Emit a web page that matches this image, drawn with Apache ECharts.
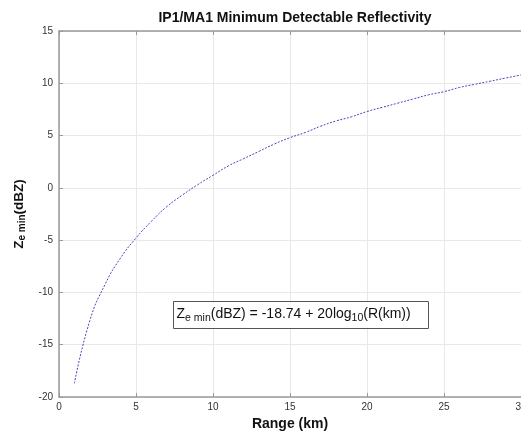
<!DOCTYPE html>
<html>
<head>
<meta charset="utf-8">
<script src="https://cdn.jsdelivr.net/npm/echarts@6/dist/echarts.min.js"></script>
<style>
  html, body { margin: 0; padding: 0; background: #fff; }
  #chart { width: 521px; height: 432px; }
</style>
</head>
<body>
<div id="chart"></div>
<script>
// range (km) and minimum detectable reflectivity (dBZ)
const rangeKm = [1, 2, 3, 4, 5, 6, 7, 8, 9, 10, 11, 12, 13, 14, 15, 16, 17, 18, 19, 20, 21, 22, 23, 24, 25, 26, 27, 28, 29, 30];
const zeMin = [-18.7, -12.7, -9.2, -6.7, -4.8, -3.2, -1.8, -0.7, 0.3, 1.2, 2.1, 2.8, 3.5, 4.2, 4.8, 5.3, 5.9, 6.4, 6.8, 7.3, 7.7, 8.1, 8.5, 8.9, 9.2, 9.6, 9.9, 10.2, 10.5, 10.8];
const xTicks = [0, 5, 10, 15, 20, 25, 30];
const yTicks = [-20, -15, -10, -5, 0, 5, 10, 15];

const FONT = "Liberation Sans, Arial, Helvetica, sans-serif";
const chart = echarts.init(document.getElementById("chart"));

const points = rangeKm.map((r, i) => [r, zeMin[i]]);

// 公共轴样式(MATLAB 风格:灰色框线,刻度朝内)
const axisBase = {
  axisLine: { show: true, onZero: false, lineStyle: { color: "#999", width: 1.5 } },
  axisTick: { show: true, inside: true, length: 4, lineStyle: { color: "#999" } },
  splitLine: { show: true, lineStyle: { color: "#e8e8e8", width: 1 } },
};

chart.setOption({
  animation: false,
  title: {
    text: "IP1/MA1 Minimum Detectable Reflectivity",
    left: 290, top: 6, textAlign: "center",
    textStyle: { fontFamily: FONT, fontSize: 14, fontWeight: "bold", color: "#111" },
  },
  grid: { left: 59, right: 0, top: 31, bottom: 35, outerBoundsMode: "none" },
  xAxis: [{
    ...axisBase,
    type: "value",
    min: xTicks[0], max: xTicks[xTicks.length - 1], interval: 5,
    name: "Range (km)", nameLocation: "middle", nameGap: 20,
    nameTextStyle: { fontFamily: FONT, fontSize: 14, fontWeight: "bold", color: "#111" },
    axisLabel: { fontFamily: FONT, fontSize: 10, color: "#333", margin: 5 },
  }, {
    ...axisBase,
    type: "value", position: "top",
    min: xTicks[0], max: xTicks[xTicks.length - 1], interval: 5,
    axisLabel: { show: false }, splitLine: { show: false },
  }],
  yAxis: {
    ...axisBase,
    type: "value",
    min: yTicks[0], max: yTicks[yTicks.length - 1], interval: 5,
    name: "{z|Z}{sub|e min}{z|(dBZ)}", nameLocation: "middle", nameGap: 26, nameRotate: 90,
    nameTextStyle: {
      fontFamily: FONT, color: "#111",
      rich: {
        z: { fontFamily: FONT, fontSize: 13.5, fontWeight: "bold", color: "#111" },
        sub: { fontFamily: FONT, fontSize: 10, fontWeight: "bold", color: "#111", verticalAlign: "bottom", padding: [7, 0, 0, 0] },
      },
    },
    axisLabel: { fontFamily: FONT, fontSize: 10, color: "#333", margin: 6 },
  },
  series: [{
    type: "line",
    data: points,
    smooth: true,
    showSymbol: false,
    lineStyle: { color: "#4646c0", width: 1, type: [2, 1.5] },
  }],
  graphic: [{
    type: "group", left: 173, top: 301, z: 100,
    children: [{
      type: "rect", z: 100,
      shape: { x: 0, y: 0, width: 255, height: 27 },
      style: { fill: "#fff", stroke: "#555", lineWidth: 1 },
    }, {
      type: "text", x: 3, y: 3, z: 101,
      style: {
        text: "{t|Z}{s|e min}{t|(dBZ) = -18.74 + 20log}{s|10}{t|(R(km))}",
        rich: {
          t: { fontFamily: FONT, fontSize: 14, fill: "#111" },
          s: { fontFamily: FONT, fontSize: 10.5, fill: "#111", padding: [8, 0, 0, 0] },
        },
      },
    }],
  }],
});
</script>
</body>
</html>
